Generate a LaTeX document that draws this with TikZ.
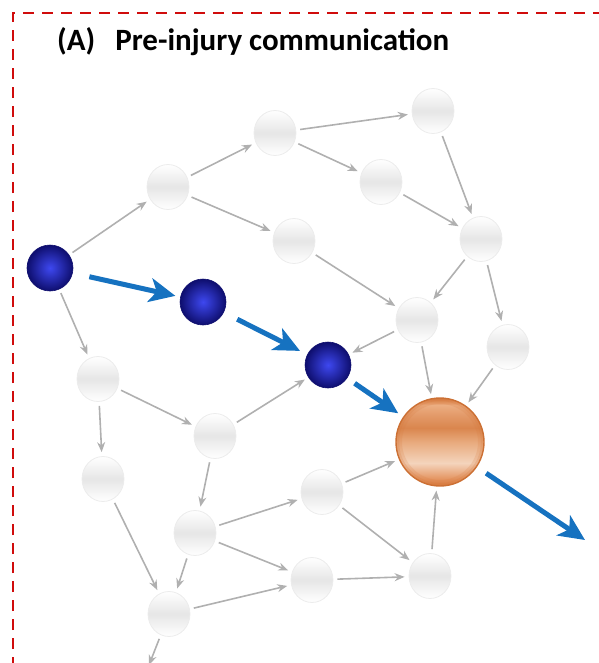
\documentclass[tikz,border=0pt]{standalone}
\usepackage{fontspec}
\setmainfont{Carlito}
\usetikzlibrary{arrows.meta,shapes.geometric}
\definecolor{linkgray}{RGB}{176,176,176}
\definecolor{flowblue}{RGB}{22,114,192}
\definecolor{framered}{RGB}{208,12,12}
\definecolor{cellrim}{RGB}{236,236,236}
\definecolor{cellband}{RGB}{230,230,230}
\definecolor{navyin}{RGB}{62,72,240}
\definecolor{navyout}{RGB}{14,14,110}
\definecolor{hubrim}{RGB}{204,112,52}
\definecolor{hubedge}{RGB}{214,120,60}
\definecolor{hubA}{RGB}{228,148,96}
\definecolor{hubB}{RGB}{244,212,188}
\definecolor{hubC}{RGB}{232,170,125}
\definecolor{hubD}{RGB}{218,134,78}
\definecolor{hubE}{RGB}{228,156,108}
\definecolor{hubF}{RGB}{236,174,130}
% glossy orange ball: rim, pale lower half, darker band, light top
\pgfdeclareverticalshading{hubgloss}{100bp}{%
  color(0bp)=(hubedge);
  color(25bp)=(hubedge);
  color(29bp)=(hubA);
  color(38bp)=(hubB);
  color(50bp)=(hubC);
  color(58bp)=(hubD);
  color(66bp)=(hubE);
  color(71bp)=(hubF);
  color(75bp)=(hubedge);
  color(100bp)=(hubedge)}
\begin{document}
\begin{tikzpicture}[x=1pt,y=-1pt,
  cell/.style={ellipse, minimum width=42pt, minimum height=45pt, inner sep=0pt,
    draw=cellrim, line width=0.8pt,
    top color=white, bottom color=white, middle color=cellband},
  active/.style={circle, minimum size=46pt, inner sep=0pt,
    draw=navyout, line width=0.6pt,
    inner color=navyin, outer color=navyout},
  hub/.style={circle, minimum size=88pt, inner sep=0pt,
    draw=hubrim, line width=1.4pt, shading=hubgloss,
    path picture={
      \draw[hubedge, line width=3pt, opacity=0.35]
        (path picture bounding box.center) circle[radius=42.5pt];
      \draw[hubedge, line width=3pt, opacity=0.18]
        (path picture bounding box.center) circle[radius=39.5pt];}},
  link/.style={draw=linkgray, line width=1.6pt,
    -{Stealth[length=10pt,width=8pt]}, shorten <=4pt, shorten >=4pt},
  flow/.style={draw=flowblue, line width=5pt,
    -{Stealth[length=26pt,width=24pt,inset=7pt]}},
  frame/.style={draw=framered, line width=2pt, dash pattern=on 11pt off 8pt}
]
\useasboundingbox (0,0) rectangle (598,663);

% dashed panel frame (runs off to the right and bottom)
\draw[frame] (13,668) -- (13,13) -- (603,13);

% panel title
\node[anchor=west, inner sep=0pt, font=\bfseries\fontsize{31}{37}\selectfont]
  (title) at (57,42) {(A)\hspace{20pt}Pre-injury communication};

% network cells
\node[cell] (g1)  at (168,187) {};
\node[cell] (g2)  at (275,133) {};
\node[cell] (g3)  at (433,111) {};
\node[cell] (g4)  at (381,182) {};
\node[cell] (g5)  at (294,241) {};
\node[cell] (g6)  at (481,239) {};
\node[cell] (g7)  at (417,320) {};
\node[cell] (g8)  at (508,347) {};
\node[cell] (g9)  at (98,379) {};
\node[cell] (g10) at (215,436) {};
\node[cell] (g11) at (103,479) {};
\node[cell] (g12) at (322,492) {};
\node[cell] (g13) at (195,533) {};
\node[cell] (g14) at (312,580) {};
\node[cell] (g15) at (430,576) {};
\node[cell] (g16) at (169,614) {};

% active pathway
\node[active] (b1) at (50,268) {};
\node[active] (b2) at (203,302) {};
\node[active] (b3) at (328,365) {};
\node[hub] (hub) at (440,442) {};

\coordinate (exit) at (585,540);
\coordinate (drop) at (149,665);

% background connections
\draw[link] (b1) -- (g1);
\draw[link] (g1) -- (g2);
\draw[link] (g2) -- (g3);
\draw[link] (g2) -- (g4);
\draw[link] (g1) -- (g5);
\draw[link] (g3) -- (g6);
\draw[link] (g4) -- (g6);
\draw[link] (g5) -- (g7);
\draw[link] (g6) -- (g7);
\draw[link] (g6) -- (g8);
\draw[link] (g7) -- (b3);
\draw[link] (g7) -- (hub);
\draw[link] (g8) -- (hub);
\draw[link] (b1) -- (g9);
\draw[link] (g9) -- (g10);
\draw[link] (g9) -- (g11);
\draw[link] (g10) -- (b3);
\draw[link] (g10) -- (g13);
\draw[link] (g11) -- (g16);
\draw[link] (g13) -- (g12);
\draw[link] (g13) -- (g14);
\draw[link] (g13) -- (g16);
\draw[link] (g12) -- (hub);
\draw[link] (g12) -- (g15);
\draw[link] (g16) -- (g14);
\draw[link] (g14) -- (g15);
\draw[link] (g15) -- (hub);
\draw[link, shorten >=0pt] (g16) -- (drop);

% highlighted signal flow
\draw[flow, shorten <=17pt, shorten >=5pt] (b1) -- (b2);
\draw[flow, shorten <=15pt, shorten >=8pt] (b2) -- (b3);
\draw[flow, shorten <=9pt, shorten >=6pt] (b3) -- (hub);
\draw[flow, shorten <=11pt] (hub) -- (exit);
\end{tikzpicture}
\end{document}
